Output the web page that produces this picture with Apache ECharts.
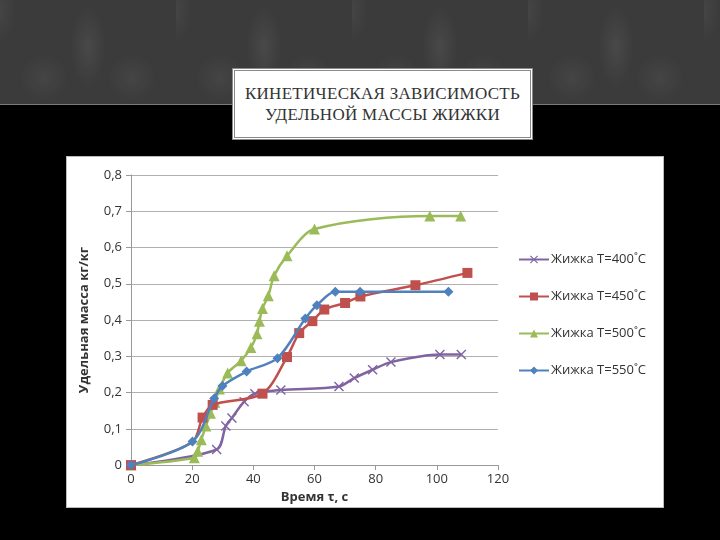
<!DOCTYPE html>
<html><head><meta charset="utf-8">
<script src="https://cdn.jsdelivr.net/npm/echarts@6/dist/echarts.min.js"></script>
<style>
html,body{margin:0;padding:0;width:720px;height:540px;overflow:hidden;background:#000;}
#top{position:absolute;left:0;top:0;width:720px;height:104px;background-color:#3b3b3b;
background-image:radial-gradient(ellipse 22px 50px at 50% 45%, rgba(255,255,255,0.07), rgba(255,255,255,0) 80%),radial-gradient(ellipse 30px 30px at 25% 75%, rgba(255,255,255,0.05), rgba(255,255,255,0) 80%),radial-gradient(ellipse 30px 30px at 75% 75%, rgba(255,255,255,0.05), rgba(255,255,255,0) 80%),radial-gradient(ellipse 20px 40px at 0% 10%, rgba(255,255,255,0.05), rgba(255,255,255,0) 80%);
background-size:176px 104px;border-bottom:1px solid #7a7a7a;}
#titlebox{position:absolute;left:232px;top:68px;width:295px;height:66px;background:#fff;border:3px double #8a8a8a;
display:flex;align-items:center;justify-content:center;text-align:center;font-family:"Liberation Serif","DejaVu Serif",serif;font-size:17px;line-height:21px;color:#333;letter-spacing:0.3px;}
#chartbox{position:absolute;left:66px;top:156px;width:598px;height:352px;background:#fff;border:1px solid #bbb;box-sizing:border-box;}
#chart{position:absolute;left:0;top:0;width:598px;height:352px;}
</style></head><body>
<div id="top"></div>
<div id="titlebox"><div>КИНЕТИЧЕСКАЯ ЗАВИСИМОСТЬ<br>УДЕЛЬНОЙ МАССЫ ЖИЖКИ</div></div>
<div id="chartbox"><div id="chart"></div></div>
<script>
const seriesNames = ['Жижка Т=400˚С','Жижка Т=450˚С','Жижка Т=500˚С','Жижка Т=550˚С'];
const xTicks = [0,20,40,60,80,100,120];
const t400 = [0,28,31,33,37,40.5,49,68,73,79,85,101,108];
const m400 = [0,0.043,0.108,0.13,0.175,0.197,0.207,0.217,0.24,0.263,0.284,0.305,0.305];
const t450 = [0,20,23.4,26.7,43,51,55,59.3,63.2,70,75,93,110];
const m450 = [0,0.063,0.131,0.166,0.197,0.298,0.364,0.397,0.429,0.447,0.465,0.496,0.53];
const hidden450 = [1];
const t500 = [0,20.7,21.8,23,24.5,26,27.4,28.9,31.6,36,39.2,41.2,42,43,44.9,46.8,51,60,97.7,107.8];
const m500 = [0,0.02,0.038,0.07,0.108,0.143,0.173,0.21,0.254,0.288,0.324,0.362,0.397,0.432,0.467,0.522,0.577,0.651,0.687,0.687];
const t550 = [0,20.1,27.2,29.9,37.8,47.9,57,60.8,66.8,74.9,103.8];
const m550 = [0,0.065,0.184,0.218,0.258,0.295,0.404,0.441,0.478,0.478,0.478];

const colors = ['#8064A2','#C0504D','#9BBB59','#4F81BD'];
const symbols = ['path://M0,1 L1,0 L5,4 L9,0 L10,1 L6,5 L10,9 L9,10 L5,6 L1,10 L0,9 L4,5 Z','rect','triangle','diamond'];
const sizes = [10,10,11,10];
const ts=[t400,t450,t500,t550], ms=[m400,m450,m500,m550];
const hiddenIdx=[[],hidden450,[],[]];
const series = seriesNames.map((n,i)=>({
  name:n,type:'line',smooth:0.3,
  data:ts[i].map((t,j)=>hiddenIdx[i].includes(j)?{value:[t,ms[i][j]],symbol:'none'}:[t,ms[i][j]]),
  symbol:symbols[i],symbolSize:sizes[i],showAllSymbol:true,
  lineStyle:{color:colors[i],width:2.5},
  itemStyle:{color:colors[i]},
  z: i===3?5:(i===2?3:(i===1?4:2))
}));
const chart = echarts.init(document.getElementById('chart'));
const fontFam = '"Open Sans","Liberation Sans",sans-serif';
chart.setOption({
  animation:false,
  grid:{left:64,top:18,right:167,bottom:41,containLabel:false},
  xAxis:{type:'value',min:0,max:120,interval:20,
    name:'Время τ, с',nameLocation:'middle',nameGap:22,
    nameTextStyle:{fontFamily:fontFam,fontWeight:'bold',fontSize:13,color:'#333'},
    axisLine:{lineStyle:{color:'#999'}},axisTick:{show:true,length:5,inside:false,lineStyle:{color:'#999'}},
    axisLabel:{fontFamily:fontFam,fontSize:13,color:'#333',margin:8,formatter:v=>String(v)},
    splitLine:{show:false}},
  yAxis:{type:'value',min:0,max:0.8,interval:0.1,
    name:'Удельная масса кг/кг',nameLocation:'middle',nameGap:40,
    nameTextStyle:{fontFamily:fontFam,fontWeight:'bold',fontSize:13,color:'#333'},
    axisLine:{show:true,lineStyle:{color:'#999'}},axisTick:{show:true,length:5,lineStyle:{color:'#999'}},
    axisLabel:{fontFamily:fontFam,fontSize:13,color:'#333',margin:9,
      formatter:v=>{const r=Math.round(v*10)/10;return r===0?'0':String(r).replace('.',',');}},
    splitLine:{show:true,lineStyle:{color:'#b0b0b0',width:1}}},
  legend:{orient:'vertical',left:451,top:96,padding:0,itemGap:24,itemWidth:30,itemHeight:10,
    textStyle:{fontFamily:fontFam,fontSize:13,color:'#333',padding:[0,0,0,-3]},
    data:seriesNames},
  series:series
});
</script>
</body></html>
